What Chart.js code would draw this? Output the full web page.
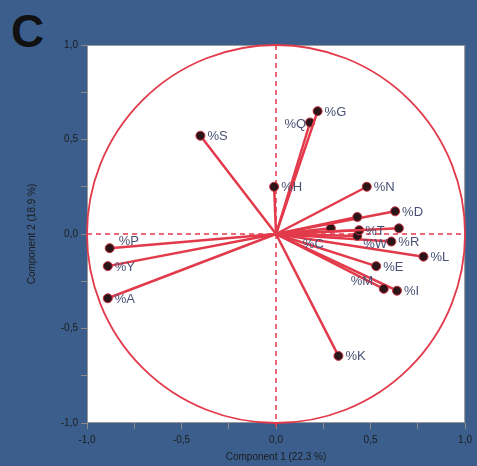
<!DOCTYPE html>
<html>
<head>
<meta charset="utf-8">
<script src="https://cdn.jsdelivr.net/npm/chart.js@4.4.0/dist/chart.umd.min.js"></script>
<style>
  html, body { margin: 0; padding: 0; }
  body { width: 477px; height: 466px; background: #3b5e8d; position: relative; overflow: hidden; }
  #panel { position: absolute; left: 11px; top: 4px; font: bold 46px "Liberation Sans", Arial, sans-serif; color: #111; }
  canvas { position: absolute; left: 0; top: 0; }
</style>
</head>
<body>
<div id="panel">C</div>
<canvas id="pcaChart" width="477" height="466"></canvas>
<script>
// Loadings (variable vectors)
const varNames = ['%G', '%Q', '%S', '%H', '%N', '', '%D', '', '%T', '%W', '%C', '%R', '%L', '%E', '%M', '%I', '%K', '%P', '%Y', '%A'];
const comp1 = [0.22, 0.18, -0.40, -0.01, 0.48, 0.43, 0.63, 0.65, 0.44, 0.43, 0.29, 0.61, 0.78, 0.53, 0.57, 0.64, 0.33, -0.88, -0.89, -0.89];
const comp2 = [0.65, 0.59, 0.52, 0.25, 0.25, 0.09, 0.12, 0.03, 0.02, -0.01, 0.03, -0.04, -0.12, -0.17, -0.29, -0.30, -0.645, -0.075, -0.17, -0.34];
const axisTicks = [-1, -0.75, -0.5, -0.25, 0, 0.25, 0.5, 0.75, 1];

// label placement tweaks (dx, dy, align) - default is just right of the point
const labelOffsets = {
    '%Q': [-4, 2, 'right'],
    '%W': [6, 9, 'left'],
    '%C': [-28, 16, 'left'],
    '%M': [-33, -7, 'left'],
    '%P': [9, -7, 'left'],
    '%T': [6, 1, 'left']
};

const RED = '#e23a4a';

const datasets = varNames.map((name, i) => ({
    label: name,
    data: [{ x: 0, y: 0 }, { x: comp1[i], y: comp2[i] }],
    showLine: true,
    borderColor: RED,
    borderWidth: 2.5,
    pointRadius: [0, 4.5],
    pointBackgroundColor: '#2b1518',
    pointBorderColor: '#c93040',
    pointBorderWidth: 1
}));

// white plot box, unit circle and the dashed zero lines
const backdrop = {
    id: 'backdrop',
    beforeDatasetsDraw(chart) {
        const { ctx, chartArea: a, scales: { x, y } } = chart;
        ctx.save();
        ctx.fillStyle = '#ffffff';
        ctx.fillRect(a.left, a.top, a.right - a.left, a.bottom - a.top);
        ctx.strokeStyle = '#9a9a9a';
        ctx.lineWidth = 1;
        ctx.strokeRect(a.left + 0.5, a.top + 0.5, a.right - a.left - 1, a.bottom - a.top - 1);

        const cx = x.getPixelForValue(0);
        const cy = y.getPixelForValue(0);
        const rx = x.getPixelForValue(1) - cx;
        const ry = cy - y.getPixelForValue(1);
        ctx.strokeStyle = RED;
        ctx.lineWidth = 1.8;
        ctx.beginPath();
        ctx.ellipse(cx, cy, rx, ry, 0, 0, Math.PI * 2);
        ctx.stroke();

        ctx.lineWidth = 1.5;
        ctx.setLineDash([5, 4]);
        ctx.beginPath();
        ctx.moveTo(cx, a.top);
        ctx.lineTo(cx, a.bottom + 4);
        ctx.moveTo(a.left, cy);
        ctx.lineTo(a.right, cy);
        ctx.stroke();
        ctx.restore();
    }
};

// variable names next to the arrow heads
const varLabels = {
    id: 'varLabels',
    afterDatasetsDraw(chart) {
        const { ctx, scales: { x, y } } = chart;
        ctx.save();
        ctx.font = '13px "Liberation Sans", Arial, sans-serif';
        ctx.fillStyle = '#4a5073';
        ctx.textBaseline = 'middle';
        varNames.forEach((name, i) => {
            if (!name) return;
            const off = labelOffsets[name] || [7, 1, 'left'];
            ctx.textAlign = off[2];
            ctx.fillText(name, x.getPixelForValue(comp1[i]) + off[0], y.getPixelForValue(comp2[i]) + off[1]);
        });
        ctx.restore();
    }
};

function tickLabel(v) {
    if (Math.abs(v * 2 - Math.round(v * 2)) > 1e-6) return '';
    return v.toFixed(1).replace('.', ',');
}

const tickFont = { family: '"Liberation Sans", Arial, sans-serif', size: 10 };

new Chart(document.getElementById('pcaChart').getContext('2d'), {
    type: 'scatter',
    data: { datasets: datasets },
    options: {
        responsive: false,
        animation: false,
        layout: { padding: { top: 45, right: 11, left: 0, bottom: 0 } },
        plugins: {
            legend: { display: false },
            tooltip: { enabled: false }
        },
        scales: {
            x: {
                min: -1, max: 1,
                afterBuildTicks: s => { s.ticks = axisTicks.map(v => ({ value: v })); },
                afterFit: s => { s.height = 43; },
                ticks: { callback: tickLabel, color: '#1c1c1c', font: tickFont, autoSkip: false, maxRotation: 0, padding: 5 },
                grid: { drawOnChartArea: false, drawTicks: true, tickLength: 6, color: '#8a8a8a' },
                border: { display: false },
                title: { display: true, text: 'Component 1 (22.3 %)', color: '#1c1c1c', font: tickFont, padding: { top: 0, bottom: 3 } }
            },
            y: {
                min: -1, max: 1,
                afterBuildTicks: s => { s.ticks = axisTicks.map(v => ({ value: v })); },
                afterFit: s => { s.width = 87; },
                ticks: { callback: tickLabel, color: '#1c1c1c', font: tickFont, autoSkip: false, padding: 3 },
                grid: { drawOnChartArea: false, drawTicks: true, tickLength: 6, color: '#8a8a8a' },
                border: { display: false },
                title: { display: true, text: 'Component 2 (18.9 %)', color: '#1c1c1c', font: tickFont, padding: { top: 26, bottom: 0 } }
            }
        }
    },
    plugins: [backdrop, varLabels]
});
</script>
</body>
</html>
